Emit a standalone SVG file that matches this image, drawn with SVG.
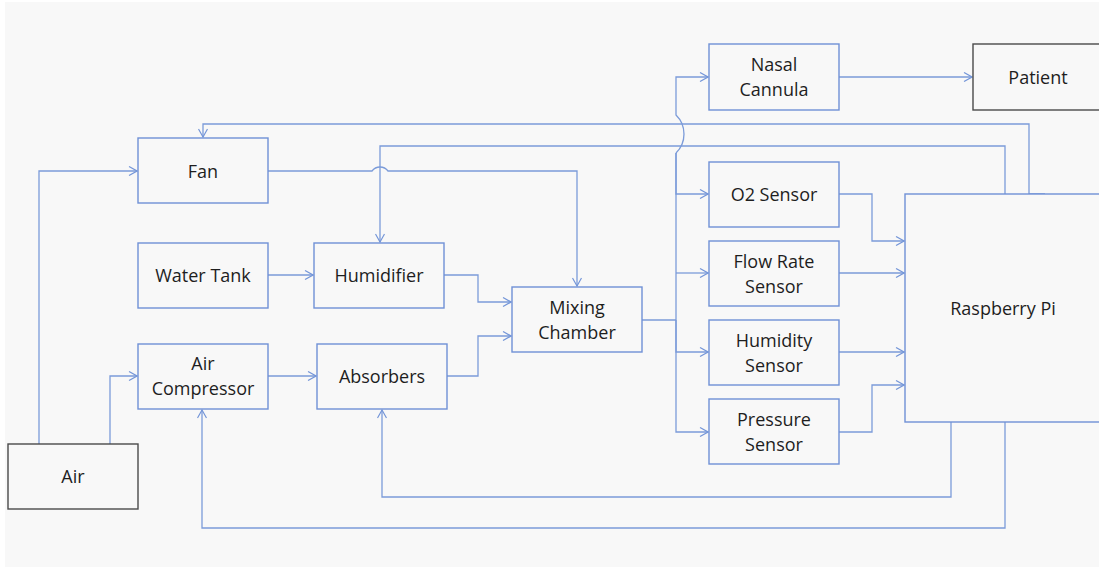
<svg xmlns="http://www.w3.org/2000/svg" width="1099" height="567" viewBox="0 0 1099 567">
<defs>
<marker id="arr" markerWidth="10" markerHeight="10" refX="9" refY="5" orient="auto" markerUnits="userSpaceOnUse">
<path d="M1,0.5 L9,5 L1,9.5" fill="none" stroke="#7496d8" stroke-width="1.2"/>
</marker>
<style>
.box{fill:#f8f8f8;stroke:#6f91d6;stroke-width:1.4}
.dark{fill:#f8f8f8;stroke:#4a4a4a;stroke-width:1.4}
.t{font-family:"Open Sans","Liberation Sans",sans-serif;font-size:18px;fill:#1e1e1e;text-anchor:middle}
.c{fill:none;stroke:#7b9bd9;stroke-width:1.3}
.a{marker-end:url(#arr)}
</style>
</defs>
<rect x="0" y="0" width="1099" height="567" fill="#ffffff"/>
<rect x="5" y="2" width="1094" height="565" fill="#f8f8f8"/>

<g id="connectors">
<path class="c a" d="M39,444 L39,171 L137,171"/>
<path class="c a" d="M110,444 L110,376 L137,376"/>
<path class="c a" d="M268,275 L313,275"/>
<path class="c a" d="M268,376 L316,376"/>
<path class="c a" d="M444,275 L478,275 L478,302 L511,302"/>
<path class="c a" d="M447,376 L478,376 L478,336 L511,336"/>
<path class="c a" d="M268,171 L372,171 A10,10 0 0 1 388,171 L577,171 L577,286"/>
<path class="c a" d="M1005,194 L1005,146 L380,146 L380,242"/>
<path class="c a" d="M1045,194 L1029,194 L1029,124 L203,124 L203,137"/>
<path class="c" d="M642,320 L676,320"/>
<path class="c a" d="M676,153 A26.6,26.6 0 0 0 676,115 L676,77 L708,77"/>
<path class="c a" d="M676,153 L676,194 L708,194"/>
<path class="c a" d="M676,273 L708,273"/>
<path class="c a" d="M676,320 L676,352 L708,352"/>
<path class="c a" d="M676,352 L676,432 L708,432"/>
<path class="c" d="M676,153 L676,352"/>
<path class="c a" d="M839,77 L972,77"/>
<path class="c a" d="M839,194 L872,194 L872,241 L904,241"/>
<path class="c a" d="M839,273 L904,273"/>
<path class="c a" d="M839,352 L904,352"/>
<path class="c a" d="M839,432 L872,432 L872,385 L904,385"/>
<path class="c a" d="M951,422 L951,497 L382,497 L382,410"/>
<path class="c a" d="M1005,422 L1005,528 L202,528 L202,410"/>
</g>

<g id="air"><rect class="dark" x="8" y="444" width="130" height="65"/><text class="t" x="73" y="483">Air</text></g>
<g id="fan"><rect class="box" x="138" y="138" width="130" height="65"/><text class="t" x="203" y="178">Fan</text></g>
<g id="water-tank"><rect class="box" x="138" y="243" width="130" height="65"/><text class="t" x="203" y="282">Water Tank</text></g>
<g id="humidifier"><rect class="box" x="314" y="243" width="130" height="65"/><text class="t" x="379" y="282">Humidifier</text></g>
<g id="air-compressor"><rect class="box" x="138" y="344" width="130" height="65"/><text class="t" x="203" y="370">Air</text><text class="t" x="203" y="395">Compressor</text></g>
<g id="absorbers"><rect class="box" x="317" y="344" width="130" height="65"/><text class="t" x="382" y="383">Absorbers</text></g>
<g id="mixing-chamber"><rect class="box" x="512" y="287" width="130" height="65"/><text class="t" x="577" y="314">Mixing</text><text class="t" x="577" y="339">Chamber</text></g>
<g id="nasal-cannula"><rect class="box" x="709" y="44" width="130" height="66"/><text class="t" x="774" y="71">Nasal</text><text class="t" x="774" y="96">Cannula</text></g>
<g id="patient"><rect class="dark" x="973" y="44" width="140" height="66"/><text class="t" x="1038" y="84">Patient</text></g>
<g id="o2-sensor"><rect class="box" x="709" y="162" width="130" height="65"/><text class="t" x="774" y="201">O2 Sensor</text></g>
<g id="flow-rate-sensor"><rect class="box" x="709" y="241" width="130" height="65"/><text class="t" x="774" y="268">Flow Rate</text><text class="t" x="774" y="293">Sensor</text></g>
<g id="humidity-sensor"><rect class="box" x="709" y="320" width="130" height="65"/><text class="t" x="774" y="347">Humidity</text><text class="t" x="774" y="372">Sensor</text></g>
<g id="pressure-sensor"><rect class="box" x="709" y="399" width="130" height="65"/><text class="t" x="774" y="426">Pressure</text><text class="t" x="774" y="451">Sensor</text></g>
<g id="raspberry-pi"><rect class="box" x="905" y="194" width="210" height="228"/><text class="t" x="1003" y="315">Raspberry Pi</text></g>
</svg>
